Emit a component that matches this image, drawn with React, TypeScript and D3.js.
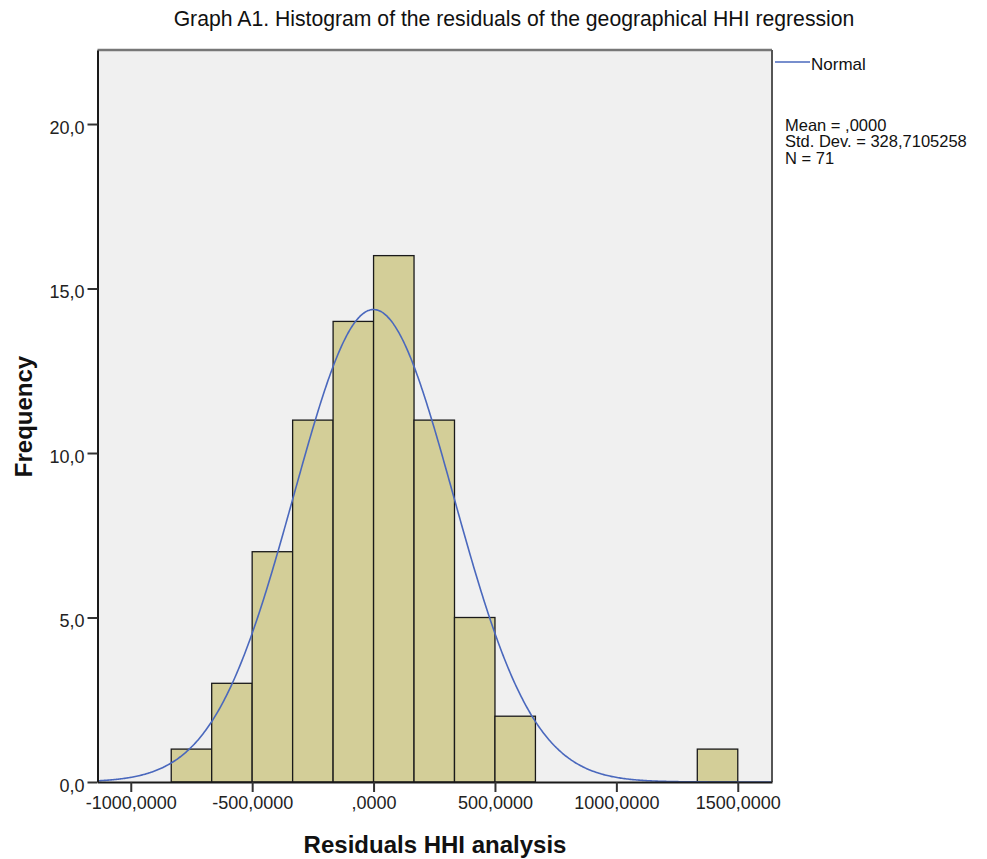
import * as d3 from "d3";
import { useRef, useEffect } from "react";

// Histogram bins (lower edges) and counts
const binStarts = [-833.33, -666.67, -500, -333.33, -166.67, 0, 166.67, 333.33, 500, 1333.33];
const binWidth = 166.67;
const counts = [1, 3, 7, 11, 14, 16, 11, 5, 2, 1];

const xTicks = [-1000, -500, 0, 500, 1000, 1500];
const yTicks = [0, 5, 10, 15, 20];

const mean = 0;
const stdDev = 328.7105258;
const n = 71;

const statsLines = ["Mean = ,0000", "Std. Dev. = 328,7105258", "N = 71"];

function App() {
  const chartRef = useRef(null);
  const width = 987;
  const height = 859;

  useEffect(() => {
    const svg = d3.select(chartRef.current);
    svg.selectAll("*").remove();

    const margin = { left: 97.5, right: 215, top: 50, bottom: 77 };
    const font = "'Liberation Sans', Arial, sans-serif";

    const x = d3
      .scaleLinear()
      .domain([-1137, 1641])
      .range([margin.left, width - margin.right]);

    const y = d3
      .scaleLinear()
      .domain([0, 22.25])
      .range([height - margin.bottom, margin.top]);

    const x0 = margin.left;
    const x1 = width - margin.right;
    const y0 = margin.top;
    const y1 = height - margin.bottom;

    // plot background
    svg
      .append("rect")
      .attr("x", x0)
      .attr("y", y0)
      .attr("width", x1 - x0)
      .attr("height", y1 - y0)
      .attr("fill", "#f0f0f0");

    // bars
    svg
      .append("g")
      .selectAll("rect")
      .data(binStarts)
      .join("rect")
      .attr("x", (d) => x(d))
      .attr("y", (d, i) => y(counts[i]))
      .attr("width", x(binWidth) - x(0))
      .attr("height", (d, i) => y(0) - y(counts[i]))
      .attr("fill", "#d3ce98")
      .attr("stroke", "#1a1a1a")
      .attr("stroke-width", 1.3);

    // normal curve
    const scale = (n * binWidth) / (stdDev * Math.sqrt(2 * Math.PI));
    const pts = d3.range(x.domain()[0], x.domain()[1], 5).map((v) => [
      v,
      scale * Math.exp(-0.5 * ((v - mean) / stdDev) ** 2),
    ]);
    svg
      .append("path")
      .datum(pts)
      .attr("fill", "none")
      .attr("stroke", "#4a68bd")
      .attr("stroke-width", 1.6)
      .attr(
        "d",
        d3
          .line()
          .x((d) => x(d[0]))
          .y((d) => y(d[1]))
          .curve(d3.curveBasis)
      );

    // frame
    svg.append("line").attr("x1", x0).attr("x2", x1).attr("y1", y0).attr("y2", y0).attr("stroke", "#777").attr("stroke-width", 2.5);
    svg.append("line").attr("x1", x1).attr("x2", x1).attr("y1", y0).attr("y2", y1).attr("stroke", "#555").attr("stroke-width", 2);

    // axes
    const xAxis = (g) =>
      g
        .attr("transform", `translate(0,${y1})`)
        .call(
          d3
            .axisBottom(x)
            .tickValues(xTicks)
            .tickSize(10)
            .tickSizeOuter(0)
            .tickPadding(4)
            .tickFormat((d) => (d === 0 ? ",0000" : `${d},0000`))
        )
        .call((g) => g.select(".domain").attr("stroke", "#1a1a1a").attr("stroke-width", 2))
        .call((g) => g.selectAll(".tick line").attr("stroke", "#333").attr("stroke-width", 2))
        .call((g) =>
          g.selectAll("text").attr("font-family", font).attr("font-size", 18).attr("fill", "#222")
        );

    const yAxis = (g) =>
      g
        .attr("transform", `translate(${x0},0)`)
        .call(
          d3
            .axisLeft(y)
            .tickValues(yTicks)
            .tickSize(10)
            .tickSizeOuter(0)
            .tickPadding(3)
            .tickFormat((d) => `${d},0`)
        )
        .call((g) => g.select(".domain").attr("stroke", "#1a1a1a").attr("stroke-width", 2))
        .call((g) => g.selectAll(".tick line").attr("stroke", "#333").attr("stroke-width", 2))
        .call((g) =>
          g
            .selectAll("text")
            .attr("font-family", font)
            .attr("font-size", 18)
            .attr("dy", "0.52em")
            .attr("fill", "#222")
        );

    svg.append("g").call(xAxis);
    svg.append("g").call(yAxis);

    // titles
    svg
      .append("text")
      .attr("x", 514)
      .attr("y", 26)
      .attr("text-anchor", "middle")
      .attr("font-family", font)
      .attr("font-size", 21.2)
      .attr("fill", "#111")
      .text("Graph A1. Histogram of the residuals of the geographical HHI regression");

    svg
      .append("text")
      .attr("x", 435)
      .attr("y", 853)
      .attr("text-anchor", "middle")
      .attr("font-family", font)
      .attr("font-weight", "bold")
      .attr("font-size", 24)
      .attr("fill", "#111")
      .text("Residuals HHI analysis");

    svg
      .append("text")
      .attr("transform", `translate(32,416.5) rotate(-90)`)
      .attr("text-anchor", "middle")
      .attr("font-family", font)
      .attr("font-weight", "bold")
      .attr("font-size", 24)
      .attr("fill", "#111")
      .text("Frequency");

    // legend
    svg.append("line").attr("x1", 775).attr("x2", 810).attr("y1", 62).attr("y2", 62).attr("stroke", "#4a68bd").attr("stroke-width", 1.6);
    svg
      .append("text")
      .attr("x", 811)
      .attr("y", 70)
      .attr("font-family", font)
      .attr("font-size", 17)
      .attr("fill", "#111")
      .text("Normal");

    svg
      .append("g")
      .selectAll("text")
      .data(statsLines)
      .join("text")
      .attr("x", 785)
      .attr("y", (d, i) => 130.5 + i * 16.5)
      .attr("font-family", font)
      .attr("font-size", 16.5)
      .attr("fill", "#111")
      .text((d) => d);
  }, []);

  return (
    <svg
      ref={chartRef}
      width={width}
      height={height}
      style={{ position: "absolute", left: 0, top: 0, background: "#fff" }}
    />
  );
}

export default App;
